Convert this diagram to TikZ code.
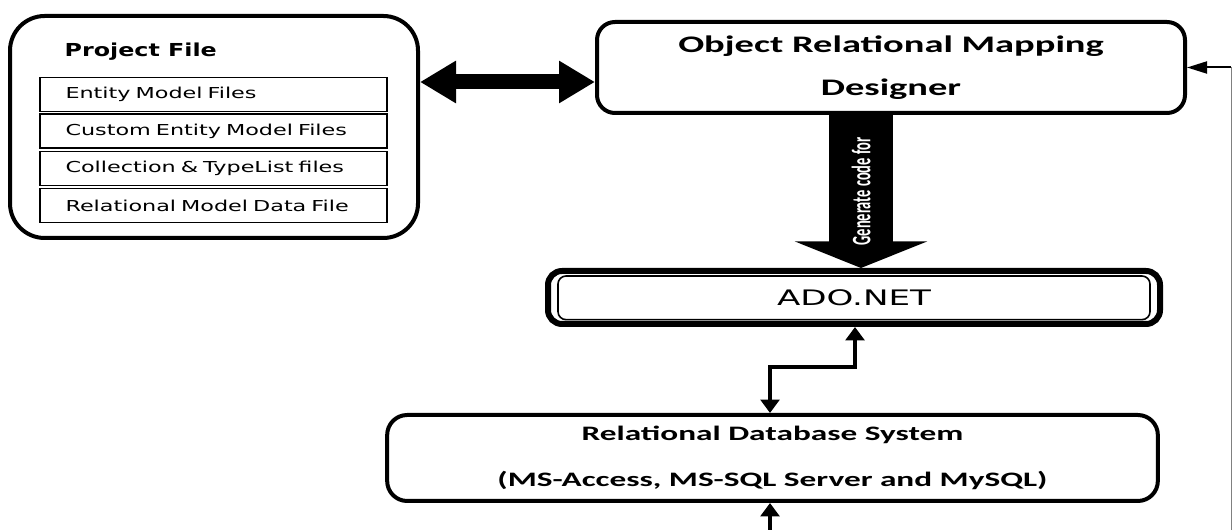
\documentclass[tikz,border=0pt]{standalone}
\usepackage{fontspec}
\usetikzlibrary{arrows.meta}
\newfontfamily\rowfont[FakeStretch=1.48]{DejaVu Sans}
\newfontfamily\headfont[FakeStretch=1.33]{DejaVu Sans}
\newfontfamily\adofont[FakeStretch=1.6]{DejaVu Sans}
\newfontfamily\boxfont[FakeStretch=1.62]{Carlito}
\newfontfamily\genfont[FakeStretch=0.54]{Carlito}

\begin{document}
\begin{tikzpicture}[x = 0.75pt, y = -0.75pt,
		box/.style = {draw, line width = 3pt, rounded corners = 13.5pt, align = center},
		row/.style = {draw, line width = 1.1pt, minimum height = 25.5pt, text width = 222pt, inner xsep = 19pt, align = left, font = \rowfont\fontsize{11.3}{13}\selectfont},
		zig/.style = {line width = 3pt, {Triangle[length = 10pt, width = 14pt]}-{Triangle[length = 10pt, width = 14pt]}}]
				\useasboundingbox (0,0) rectangle (1232,530);
				\node [box, minimum width = 306pt, minimum height = 166.5pt, rounded corners = 26pt] (prj) at (214,127) {};
				\node [anchor = west, font = \headfont\bfseries\fontsize{13.4}{16}\selectfont] (ptitle) at (60,52) {Project File};
				\node [row] (r1) at (213.5,94.5) {Entity Model Files};
				\node [row] (r2) at (213.5,131) {Custom Entity Model Files};
				\node [row] (r3) at (213.5,168.5) {Collection \& TypeList files};
				\node [row] (r4) at (213.5,205.5) {Relational Model Data File};
				%
				\node [box, minimum width = 441pt, minimum height = 68.25pt, font = \boxfont\bfseries\fontsize{17.8}{32}\selectfont] (orm) at (891,67.5) {Object Relational Mapping\\Designer};
				\node [box, line width = 4.5pt, rounded corners = 10.5pt, minimum width = 459pt, minimum height = 39.75pt, font = \adofont\fontsize{16}{19}\selectfont] (ado) at (854,297.5) {ADO.NET};
				\draw [line width = 1.2pt, rounded corners = 6pt] ([xshift = 9.75pt, yshift = -6pt]ado.north west) rectangle ([xshift = -9.75pt, yshift = 5.5pt]ado.south east);
				\node [box, rounded corners = 15pt, minimum width = 578pt, minimum height = 64.5pt, font = \boxfont\bfseries\fontsize{15.4}{34}\selectfont] (rdb) at (772.5,458) {Relational Database System\\(MS-Access, MS-SQL Server and MySQL)};
				%
				\coordinate (ay) at (0,82);
				\draw [line width = 11.25pt, {Triangle[length = 27pt, width = 30pt]}-{Triangle[length = 27pt, width = 30pt]}] (prj.east |- ay) -- (orm.west |- ay);
				\coordinate (gx) at (861,0);
				\draw [line width = 48pt, -{Triangle[length = 20pt, width = 99pt]}] (orm.south -| gx) -- (ado.north -| gx)
				node [midway, rotate = 90, text = white, font = \genfont\bfseries\fontsize{20}{24}\selectfont] (gen) {Generate code for};
				\coordinate (za) at (855,0);
				\coordinate (zb) at (770,367);
				\draw [zig] (ado.south -| za) |- (zb) -- (rdb.north -| zb);
				\coordinate (bt) at (770,530);
				\draw [line width = 3pt, -{Triangle[length = 10pt, width = 14pt]}] (bt) -- (rdb.south -| bt);
				% line coming in from the right
				\coordinate (fb) at (1231,67.5);
				\coordinate (fe) at (1231,530);
				\draw [gray, line width = 0.6pt] (fe) -- (fb);
				\draw [line width = 1.5pt, -{Triangle[length = 15pt, width = 9pt]}] (fb) -- (orm.east);
			\end{tikzpicture}
\end{document}
